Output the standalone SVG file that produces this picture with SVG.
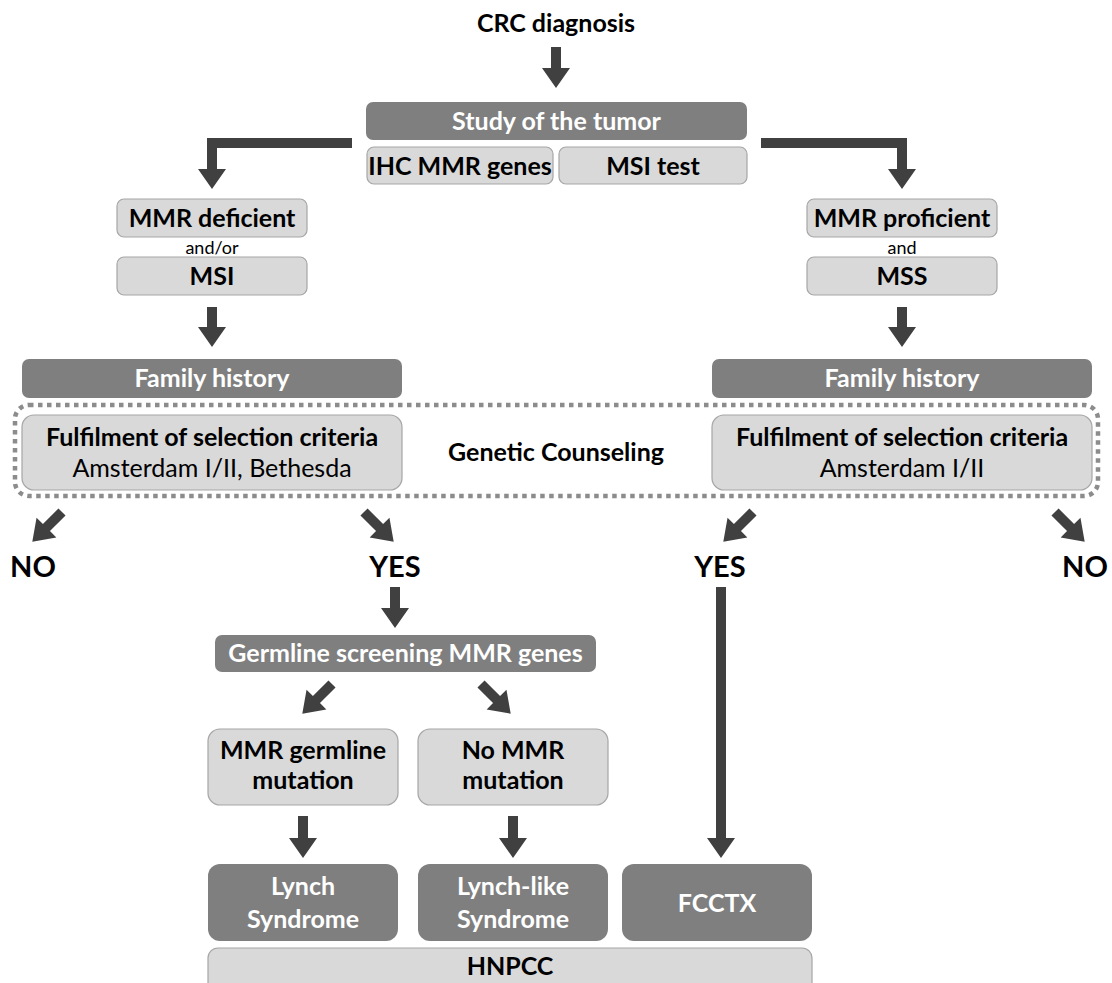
<svg xmlns="http://www.w3.org/2000/svg" width="1112" height="983" viewBox="0 0 1112 983">
<style>
.dark{fill:#7f7f7f;}
.light{fill:#d9d9d9;stroke:#a6a6a6;stroke-width:1.2;}
.t{font-family:Lato,"Open Sans","Liberation Sans",sans-serif;font-weight:bold;font-size:25px;fill:#000;text-anchor:middle;}
.w{fill:#fff;}
.r{font-weight:normal;}
.s{font-size:18px;font-weight:normal;}
.big{font-size:29px;}
.arr{fill:#404040;}
.dot{fill:none;stroke:#8c8c8c;stroke-width:4.5;stroke-dasharray:4.5 4.5;}
</style>
<rect width="1112" height="983" fill="#fff"/>

<g id="connectors">
<path class="arr" d="M551,47 H561 V68 H570 L556,88 L542,68 H551 Z"/>
<path class="arr" d="M352,138 H207 V169 H198 L212,189 L226,169 H217 V148 H352 Z"/>
<path class="arr" d="M761,138 H907 V169 H916 L902,189 L888,169 H897 V148 H761 Z"/>
<path class="arr" d="M207,307 H217 V327 H226 L212,347 L198,327 H207 Z"/>
<path class="arr" d="M897,307 H907 V327 H916 L902,347 L888,327 H897 Z"/>
<path class="arr" transform="translate(62,512) rotate(45)" d="M-5,0 H5 V22 H14 L0,42 L-14,22 H-5 Z"/>
<path class="arr" transform="translate(364,512) rotate(-45)" d="M-5,0 H5 V22 H14 L0,42 L-14,22 H-5 Z"/>
<path class="arr" transform="translate(753,512) rotate(45)" d="M-5,0 H5 V22 H14 L0,42 L-14,22 H-5 Z"/>
<path class="arr" transform="translate(1055,512) rotate(-45)" d="M-5,0 H5 V22 H14 L0,42 L-14,22 H-5 Z"/>
<path class="arr" d="M390,587 H400 V608 H409 L395,628 L381,608 H390 Z"/>
<path class="arr" transform="translate(332,684) rotate(45)" d="M-5,0 H5 V22 H14 L0,42 L-14,22 H-5 Z"/>
<path class="arr" transform="translate(481,684) rotate(-45)" d="M-5,0 H5 V22 H14 L0,42 L-14,22 H-5 Z"/>
<path class="arr" d="M298,816 H308 V838 H317 L303,858 L289,838 H298 Z"/>
<path class="arr" d="M508,816 H518 V838 H527 L513,858 L499,838 H508 Z"/>
<path class="arr" d="M716,587 H726 V838 H735 L721,858 L707,838 H716 Z"/>
</g>

<g id="crc"><text class="t" x="556" y="32" style="font-size:25px">CRC diagnosis</text></g>

<g id="study"><rect class="dark" x="366" y="102" width="381" height="38" rx="7"/><text class="t w" x="556.5" y="130">Study of the tumor</text></g>
<g id="ihc"><rect class="light" x="367" y="147" width="186" height="37" rx="7"/><text class="t" x="460" y="175">IHC MMR genes</text></g>
<g id="msitest"><rect class="light" x="559" y="147" width="188" height="37" rx="7"/><text class="t" x="653" y="175">MSI test</text></g>

<g id="mmrdef"><rect class="light" x="117" y="199" width="190" height="38" rx="7"/><text class="t" x="212" y="227">MMR deficient</text></g>
<g id="andor"><text class="t s" x="212" y="254">and/or</text></g>
<g id="msi"><rect class="light" x="117" y="257" width="190" height="38" rx="7"/><text class="t" x="212" y="285">MSI</text></g>

<g id="mmrprof"><rect class="light" x="807" y="199" width="190" height="38" rx="7"/><text class="t" x="902" y="227">MMR proficient</text></g>
<g id="and"><text class="t s" x="902" y="254">and</text></g>
<g id="mss"><rect class="light" x="807" y="257" width="190" height="38" rx="7"/><text class="t" x="902" y="285">MSS</text></g>

<g id="famL"><rect class="dark" x="22" y="359" width="380" height="39" rx="7"/><text class="t w" x="212" y="387">Family history</text></g>
<g id="famR"><rect class="dark" x="712" y="359" width="380" height="39" rx="7"/><text class="t w" x="902" y="387">Family history</text></g>

<g id="counseling">
<rect class="dot" x="15" y="405" width="1083" height="91" rx="14"/>
<text class="t" x="556" y="461">Genetic Counseling</text>
</g>
<g id="fulL"><rect class="light" x="22" y="415" width="380" height="75" rx="12"/>
<text class="t" x="212" y="446">Fulfilment of selection criteria</text>
<text class="t r" x="212" y="477">Amsterdam I/II, Bethesda</text></g>
<g id="fulR"><rect class="light" x="712" y="415" width="380" height="75" rx="12"/>
<text class="t" x="902" y="446">Fulfilment of selection criteria</text>
<text class="t r" x="902" y="477">Amsterdam I/II</text></g>

<g id="noL"><text class="t big" x="33" y="577">NO</text></g>
<g id="yesL"><text class="t big" x="395" y="577">YES</text></g>
<g id="yesR"><text class="t big" x="720" y="577">YES</text></g>
<g id="noR"><text class="t big" x="1085" y="577">NO</text></g>

<g id="germline"><rect class="dark" x="215" y="635" width="381" height="37" rx="7"/><text class="t w" x="405.5" y="662">Germline screening MMR genes</text></g>

<g id="mmrgerm"><rect class="light" x="208" y="729" width="190" height="76" rx="12"/>
<text class="t" x="303" y="759">MMR germline</text><text class="t" x="303" y="789">mutation</text></g>
<g id="nommr"><rect class="light" x="418" y="729" width="190" height="76" rx="12"/>
<text class="t" x="513" y="759">No MMR</text><text class="t" x="513" y="789">mutation</text></g>

<g id="lynch"><rect class="dark" x="208" y="864" width="190" height="77" rx="12"/>
<text class="t w" x="303" y="895">Lynch</text><text class="t w" x="303" y="928">Syndrome</text></g>
<g id="lynchlike"><rect class="dark" x="418" y="864" width="190" height="77" rx="12"/>
<text class="t w" x="513" y="895">Lynch-like</text><text class="t w" x="513" y="928">Syndrome</text></g>
<g id="fcctx"><rect class="dark" x="622" y="864" width="190" height="77" rx="12"/>
<text class="t w" x="717" y="912">FCCTX</text></g>

<g id="hnpcc"><rect class="light" x="208" y="948" width="604" height="50" rx="10"/>
<text class="t" x="510" y="975">HNPCC</text></g>
</svg>
